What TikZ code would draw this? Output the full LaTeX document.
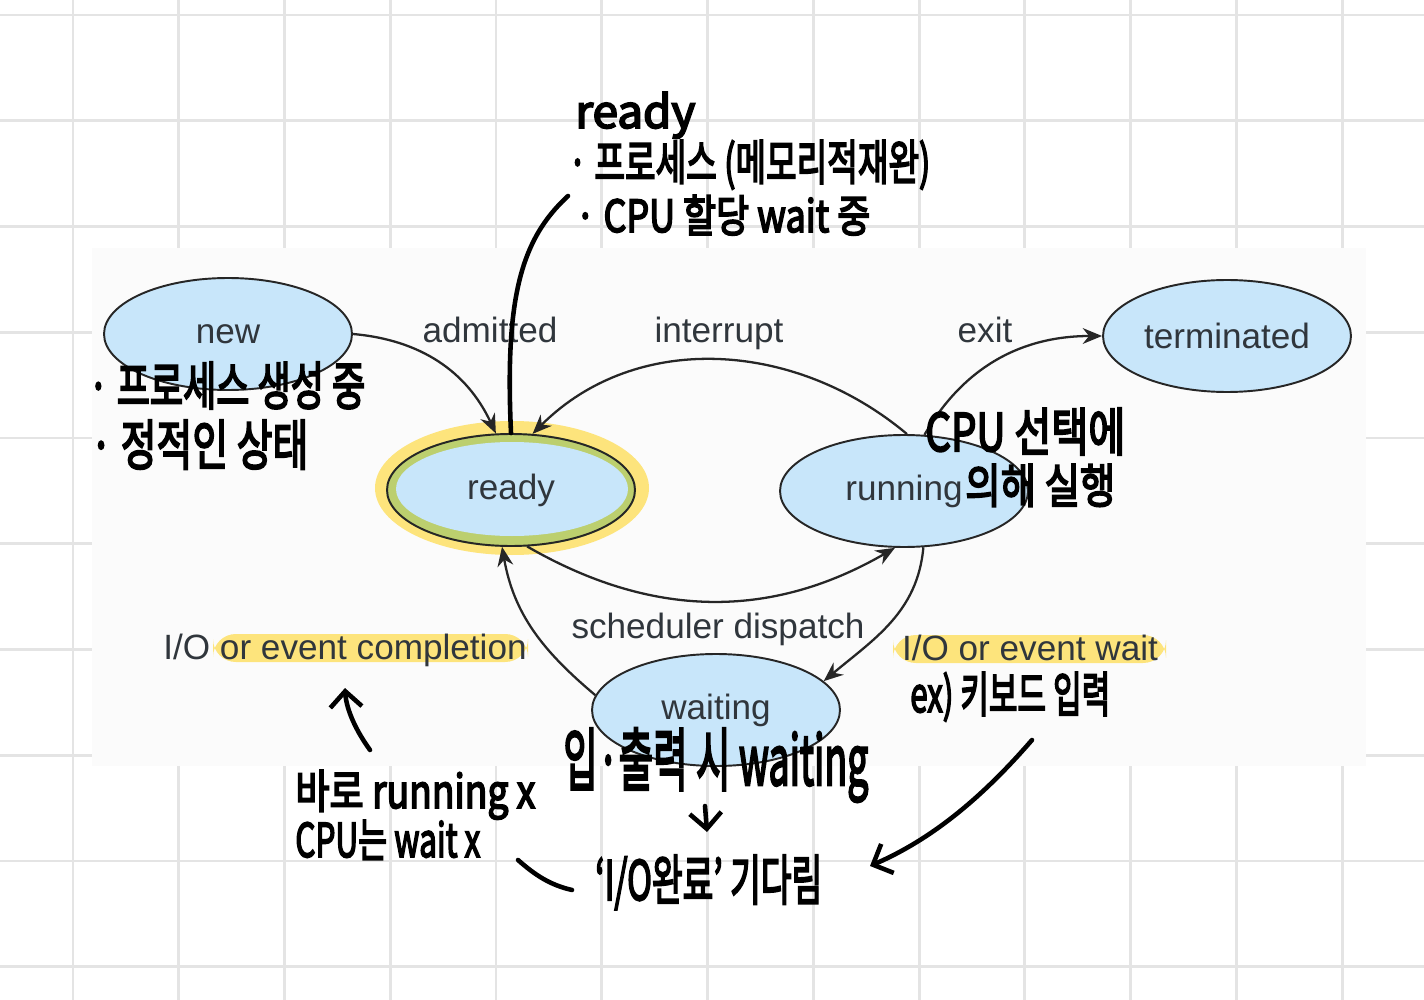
\documentclass[tikz,border=0pt]{standalone}
\usepackage{fontspec}
\usepackage{graphicx}
\setmainfont{Liberation Sans}
\newfontfamily\hand[FakeBold=4]{Noto Sans CJK KR}
\usetikzlibrary{arrows.meta,shapes.geometric,positioning}

\definecolor{stateblue}{HTML}{C8E6FA}
\definecolor{gridgray}{HTML}{E4E4E4}
\definecolor{marker}{HTML}{FDE47C}
\definecolor{markgreen}{HTML}{BCCF6E}
\definecolor{labelgray}{HTML}{30363C}
\definecolor{paper}{HTML}{FBFBFB}

% handwritten line, stretched to the size it has on the page
\newcommand{\hw}[3]{\resizebox{#1}{#2}{\hand\fontsize{20}{20}\selectfont #3}}

\tikzset{
  state/.style={ellipse, draw=black!85, line width=1.1pt, fill=stateblue,
    minimum width=4.96cm, minimum height=2.24cm, inner sep=0pt,
    text=labelgray, font=\fontsize{20}{24}\selectfont},
  trans/.style={line width=1.3pt, draw=black!85, -{Stealth[length=11pt,width=9pt]}},
  tlabel/.style={text=labelgray, font=\fontsize{20}{24}\selectfont, inner sep=0pt, anchor=base},
  note/.style={anchor=base west, inner sep=0pt},
  pen/.style={line width=2.6pt, line cap=round, line join=round},
  penarrow/.style={pen, -{Straight Barb[length=9pt,width=18pt]}},
  gridline/.style={gridgray, line width=1.7pt},
}

\begin{document}
\begin{tikzpicture}[x=0.02cm, y=-0.02cm]
\useasboundingbox (0,0) rectangle (1424,1000);
\fill[white] (0,0) rectangle (1424,1000);

% notebook grid
\foreach \k in {0,...,12}
  \draw[gridline] ({73+105.75*\k},0) -- ++(0,1000);
\foreach \k in {0,...,9}
  \draw[gridline] (0,{15+105.75*\k}) -- ++(1424,0);

% pasted diagram
\fill[paper] (92,248) rectangle (1366,766);

% marker
\fill[marker, rounded corners=13] (213,634) rectangle (528,662);
\fill[marker, rounded corners=13] (893,635) rectangle (1166,663);
\fill[marker] (512,488) ellipse [x radius=137, y radius=67];
\fill[markgreen] (511,490) ellipse [x radius=125, y radius=57];
\fill[stateblue] (512,489) ellipse [x radius=116, y radius=47];

% states
\node[state] (new) at (228,334) {new};
\node[state, fill=none] (ready) at (511,490) {ready};
\node[state] (running) at (904,491) {running};
\node[state] (terminated) at (1227,336) {terminated};
\node[state] (waiting) at (716,710) {waiting};

% transitions
\draw[trans] (new.east) to[out=-5,in=115] (ready.105);
\draw[trans] (running.87) to[out=140,in=45] (ready.69);
\draw[trans] (ready.286) to[out=-30,in=210] (running.261);
\draw[trans] (running.70) to[out=60,in=180] (terminated.west);
\draw[trans] (running.289) to[out=-95,in=40] (waiting.15);
\draw[trans] (waiting.173) to[out=140,in=-80] (ready.261);

\node[tlabel] (admitted) at (490,342) {admitted};
\node[tlabel] (interrupt) at (719,342) {interrupt};
\node[tlabel] (exit) at (985,342) {exit};
\node[tlabel] (dispatch) at (718,638) {scheduler dispatch};
\node[tlabel] (completion) at (345,659) {I/O or event completion};
\node[tlabel] (iowait) at (1030,660) {I/O or event wait};

% handwritten notes
\node[note] (readyhead) at (575,128) {\hw{2.4cm}{0.72cm}{ready}};
\node[note] (readyproc) at (568,180) {\hw{7.24cm}{0.8cm}{· 프로세스 (메모리적재완)}};
\node[note] (readycpu) at (575,232) {\hw{5.9cm}{0.74cm}{· CPU 할당 wait 중}};
\node[note] (newproc) at (88,405) {\hw{5.54cm}{0.86cm}{· 프로세스 생성 중}};
\node[note] (newstatic) at (90,465) {\hw{4.36cm}{0.9cm}{· 정적인 상태}};
\node[note] (runsel) at (925,451) {\hw{4.0cm}{0.86cm}{CPU 선택에}};
\node[note] (runexec) at (965,503) {\hw{3.0cm}{0.78cm}{의해 실행}};
\node[note] (exkey) at (910,712) {\hw{4.0cm}{0.8cm}{ex) 키보드 입력}};
\node[note] (iohead) at (563,785) {\hw{6.1cm}{1.14cm}{입·출력 시 waiting}};
\node[note] (iodone) at (595,900) {\hw{4.54cm}{0.9cm}{‘I/O완료’ 기다림}};
\node[note] (norun) at (295,808) {\hw{4.8cm}{0.76cm}{바로 running x}};
\node[note] (nocpu) at (295,857) {\hw{3.7cm}{0.74cm}{CPU는 wait x}};

% pen strokes
\coordinate (readytail) at (568,196);
\draw[pen] (readytail) .. controls (520,240) and (505,300) .. (ready.north);
\coordinate (upfoot) at (370,750);
\coordinate (uptip) at (345,688);
\draw[penarrow] (upfoot) .. controls (352,725) and (346,705) .. (uptip);
\coordinate (dashL) at (518,860);
\coordinate (dashR) at (572,890);
\draw[pen] (dashL) .. controls (535,875) and (550,885) .. (dashR);
\coordinate (downtop) at (705,806);
\coordinate (downtip) at (707,832);
\draw[penarrow] (downtop) -- (downtip);
\coordinate (keyfoot) at (1032,740);
\coordinate (keytip) at (870,866);
\draw[penarrow] (keyfoot) .. controls (980,800) and (930,840) .. (keytip);
\end{tikzpicture}
\end{document}
